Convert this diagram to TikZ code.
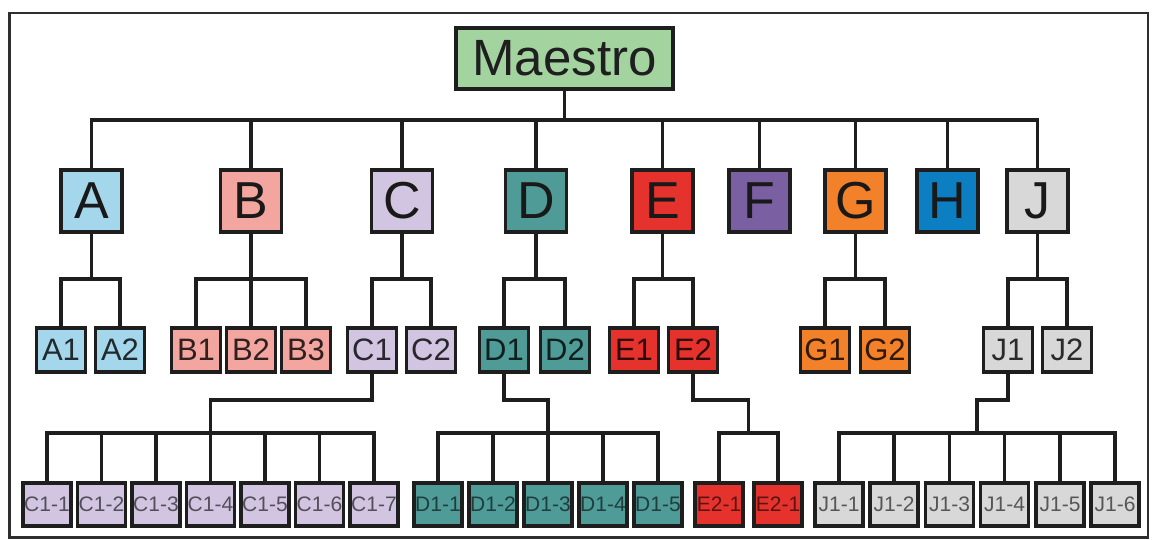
\documentclass[tikz,border=0pt]{standalone}
\usepackage{fontspec}
\setmainfont{Liberation Sans}
\definecolor{lineC}{HTML}{1E1E1E}
\definecolor{frameC}{HTML}{2E2E2E}
\definecolor{cM}{HTML}{A3D4A0}
\definecolor{cA}{HTML}{A5D7EC}
\definecolor{cB}{HTML}{F3A59F}
\definecolor{cC}{HTML}{D1C5E1}
\definecolor{cD}{HTML}{4E9B98}
\definecolor{cE}{HTML}{E5322D}
\definecolor{cF}{HTML}{7B5FA3}
\definecolor{cG}{HTML}{F2812A}
\definecolor{cH}{HTML}{0B7FC1}
\definecolor{cJ}{HTML}{D8D8D8}
\begin{document}
\begin{tikzpicture}[x=1pt,y=-1pt,
  conn/.style={draw=lineC, line width=3.1pt},
  nbox/.style={draw=lineC, line width=3.1pt, inner sep=0pt, text=black},
  lvlzero/.style={nbox, minimum width=217pt, minimum height=61pt, font=\fontsize{51}{51}\selectfont, text=black!88},
  lvlone/.style={nbox, minimum width=61pt, minimum height=62pt, font=\fontsize{52}{52}\selectfont, text=black!90},
  lvltwo/.style={nbox, minimum width=49pt, minimum height=44pt, font=\fontsize{31}{31}\selectfont, text opacity=0.8},
  lvlthree/.style={nbox, minimum width=48pt, minimum height=43pt, font=\fontsize{21}{21}\selectfont, text opacity=0.6},
]
\useasboundingbox (0,0) rectangle (1152,540);
\draw[draw=frameC, line width=2.8pt] (9.5,13) rectangle (1148,537.5);

% root
\node[lvlzero, fill=cM] (M) at (564.5,58.5) {Maestro};

% level 1
\foreach \n/\x/\c in {A/91.5/cA, B/251/cB, C/402/cC, D/536/cD, E/662.5/cE, F/759.5/cF, G/855.5/cG, H/947.5/cH, J/1037.5/cJ}
  \node[lvlone, fill=\c] (\n) at (\x,201) {\n};

% level 2
\foreach \n/\x/\c in {A1/61/cA, A2/120/cA, B1/196/cB, B2/251/cB, B3/306/cB, C1/372/cC, C2/431/cC, D1/504/cD, D2/565/cD, E1/634/cE, E2/693/cE, G1/825/cG, G2/885/cG, J1/1008/cJ, J2/1067/cJ}
  \node[lvltwo, fill=\c] (\n) at (\x,350) {\n};

% level 3
\foreach \n/\x in {C1-1/47, C1-2/101.5, C1-3/156, C1-4/210.5, C1-5/265, C1-6/319.5, C1-7/374}
  \node[lvlthree, fill=cC] (\n) at (\x,504.5) {\n};
\foreach \n/\x in {D1-1/438, D1-2/493, D1-3/548, D1-4/603, D1-5/658}
  \node[lvlthree, fill=cD] (\n) at (\x,504.5) {\n};
\node[lvlthree, fill=cE] (E2-1) at (719,504.5) {E2-1};
\node[lvlthree, fill=cE] (E2-2) at (778,504.5) {E2-1};
\foreach \n/\x in {J1-1/839, J1-2/894, J1-3/949.5, J1-4/1004.5, J1-5/1060, J1-6/1115}
  \node[lvlthree, fill=cJ] (\n) at (\x,504.5) {\n};

% connectors root -> level 1
\coordinate (busM) at (564.5,120);
\foreach \n in {A,B,C,D,E,F,G,H,J}
  \draw[conn] (M.south) -- (busM) -| (\n.north);

% level 1 -> level 2
\coordinate (busA) at (91.5,279);
\coordinate (busB) at (251,279);
\coordinate (busC) at (402,279);
\coordinate (busD) at (536,279);
\coordinate (busE) at (662.5,279);
\coordinate (busG) at (855.5,279);
\coordinate (busJ) at (1037.5,279);
\foreach \p/\k in {A/A1, A/A2, B/B1, B/B2, B/B3, C/C1, C/C2, D/D1, D/D2, E/E1, E/E2, G/G1, G/G2, J/J1, J/J2}
  \draw[conn] (\p.south) -- (bus\p) -| (\k.north);

% level 2 -> level 3
\coordinate (elC) at (210.5,400);
\coordinate (bC) at (210.5,433);
\coordinate (elD) at (548,400);
\coordinate (bD) at (548,433);
\coordinate (elE) at (748.5,400);
\coordinate (bE) at (748.5,433);
\coordinate (elJ) at (977,400);
\coordinate (bJ) at (977,433);
\foreach \k in {C1-1,C1-2,C1-3,C1-4,C1-5,C1-6,C1-7}
  \draw[conn] (C1.south) |- (elC) -- (bC) -| (\k.north);
\foreach \k in {D1-1,D1-2,D1-3,D1-4,D1-5}
  \draw[conn] (D1.south) |- (elD) -- (bD) -| (\k.north);
\foreach \k in {E2-1,E2-2}
  \draw[conn] (E2.south) |- (elE) -- (bE) -| (\k.north);
\foreach \k in {J1-1,J1-2,J1-3,J1-4,J1-5,J1-6}
  \draw[conn] (J1.south) |- (elJ) -- (bJ) -| (\k.north);
\end{tikzpicture}
\end{document}
